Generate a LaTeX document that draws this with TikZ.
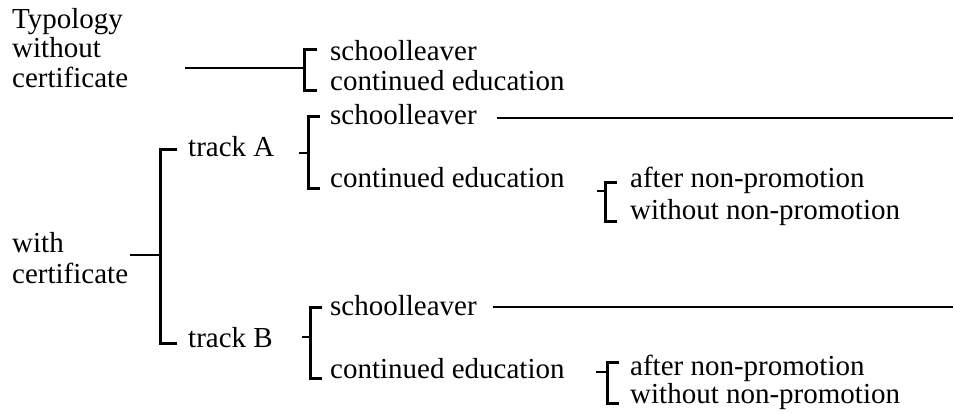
\documentclass[tikz,border=0pt]{standalone}
\usepackage{fontspec}
\setmainfont{Liberation Serif}
\begin{document}
\begin{tikzpicture}[x=1pt,y=-1pt,
  lbl/.style={anchor=base west,inner sep=0pt,font=\fontsize{29}{30}\selectfont},
  brk/.style={line width=3pt,line cap=butt,line join=miter},
  conn/.style={line width=2pt}]
\useasboundingbox (0,0) rectangle (955,414);
% left labels
\node[lbl] (typ) at (12,29) {Typology};
\node[lbl] (wo1) at (12,58) {without};
\node[lbl] (wo2) at (12,88) {certificate};
\node[lbl] (wi1) at (12,252) {with};
\node[lbl] (wi2) at (12,283) {certificate};
% without certificate group
\coordinate (c0a) at (185,68);
\coordinate (c0b) at (304,68);
\draw[conn] (c0a) -- (c0b);
\draw[brk] (317,50) -- (304,50) -- (304,91) -- (317,91);
\node[lbl] (s0) at (330,61) {schoolleaver};
\node[lbl] (e0) at (330,91) {continued education};
% with certificate main bracket
\coordinate (c1a) at (130,255);
\coordinate (c1b) at (160,255);
\draw[conn] (c1a) -- (c1b);
\draw[brk] (177,150) -- (160,150) -- (160,343) -- (177,343);
\node[lbl] (ta) at (188,157) {track A};
\node[lbl] (tb) at (188,347) {track B};
% track A
\draw[conn] (299,153) -- (308,153);
\draw[brk] (320,117) -- (308,117) -- (308,189) -- (320,189);
\node[lbl] (sa) at (330,125) {schoolleaver};
\node[lbl] (ea) at (330,188) {continued education};
\coordinate (la) at (953,118);
\draw[conn] (497,118) -- (la);
\draw[conn] (597,191) -- (605,191);
\draw[brk] (617,183) -- (605,183) -- (605,221) -- (617,221);
\node[lbl] (apa) at (630,188) {after non-promotion};
\node[lbl] (wpa) at (630,219) {without non-promotion};
% track B
\draw[conn] (302,337) -- (310,337);
\draw[brk] (322,307) -- (310,307) -- (310,378) -- (322,378);
\node[lbl] (sb) at (330,315) {schoolleaver};
\node[lbl] (eb) at (330,378) {continued education};
\coordinate (lb) at (953,307);
\draw[conn] (493,307) -- (lb);
\draw[conn] (596,372) -- (607,372);
\draw[brk] (619,362) -- (607,362) -- (607,403) -- (619,403);
\node[lbl] (apb) at (630,375) {after non-promotion};
\node[lbl] (wpb) at (630,403) {without non-promotion};
\end{tikzpicture}
\end{document}
